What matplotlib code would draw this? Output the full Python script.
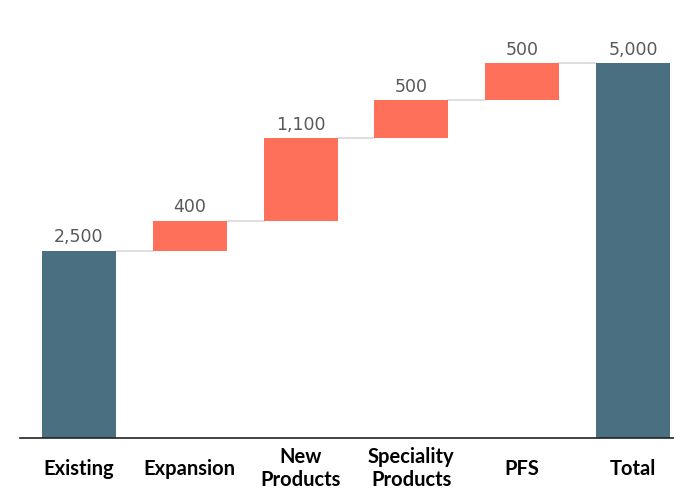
import numpy as np
import matplotlib
matplotlib.use('Agg')
import matplotlib.pyplot as plt

# data
categories = ['Existing', 'Expansion', 'New\nProducts', 'Speciality\nProducts', 'PFS', 'Total']
values = [2500, 400, 1100, 500, 500, 5000]
is_total = [True, False, False, False, False, True]

dark = '#4a6f80'
coral = '#ff705a'

fig = plt.figure(figsize=(6.74, 4.97), dpi=100)
ax = fig.add_axes([0.03, 0.1187, 0.97, 0.83])

# bar bottoms
bottoms = []
running = 0
for v, tot in zip(values, is_total):
    if tot:
        bottoms.append(0)
        running = v
    else:
        bottoms.append(running)
        running += v
tops = [b + v for b, v in zip(bottoms, values)]

x = np.arange(len(values))
w = 0.667
colors = [dark if t else coral for t in is_total]
ax.bar(x, values, w, bottom=bottoms, color=colors, zorder=2)

# connectors
for i in range(len(values) - 1):
    ax.plot([x[i] + w / 2, x[i + 1] - w / 2], [tops[i], tops[i]],
            color='#d9d9d9', lw=1.2, zorder=1)

# value labels
for xi, t, v in zip(x, tops, values):
    ax.annotate('{:,}'.format(v), (xi, t), xytext=(0, 3), textcoords='offset points',
                ha='center', va='bottom', fontsize=12.5, color='#595959')

ax.set_xlim(-0.53, 5.37)
ax.set_ylim(0, 5500)
ax.set_xticks(x)
ax.set_xticklabels(categories, fontsize=14.5, fontweight='bold', family='Lato',
                   linespacing=1.2)
for lab in ax.get_xticklabels():
    lab.set_va('center')
ax.tick_params(axis='x', length=0, pad=22)
ax.set_yticks([])
for s in ['top', 'right', 'left']:
    ax.spines[s].set_visible(False)
ax.spines['bottom'].set_color('#222222')
ax.spines['bottom'].set_linewidth(1.2)

fig.savefig('out.png', dpi=100)
